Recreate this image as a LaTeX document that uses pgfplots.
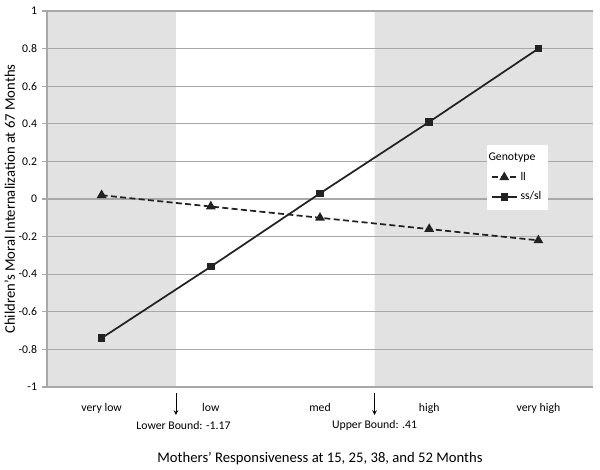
\documentclass[border=0pt]{standalone}
\usepackage{fontspec}
\setmainfont{Carlito}
\usepackage{pgfplots}
\pgfplotsset{compat=1.18}

\definecolor{shade}{HTML}{E2E2E2}
\definecolor{gridc}{HTML}{A8A8A8}
\definecolor{linec}{HTML}{222222}

\begin{document}
\begin{tikzpicture}
\begin{axis}[
    set layers,
    scale only axis,
    width=409.5pt, height=282pt,
    xmin=-0.5, xmax=4.5,
    ymin=-1, ymax=1,
    clip=false,
    xtick={0,1,2,3,4},
    xticklabels={very low,low,med,high,very high},
    ytick={-1,-0.8,-0.6,-0.4,-0.2,0,0.2,0.4,0.6,0.8,1},
    yticklabel style={/pgf/number format/fixed, /pgf/number format/assume math mode=true},
    ymajorgrids,
    major grid style={gridc, line width=0.8pt},
    axis x line*=bottom,
    axis y line*=left,
    axis line style={gridc, line width=0.8pt, -},
    ytick style={gridc, line width=0.8pt},
    xtick style={draw=none},
    tick align=outside,
    major tick length=4pt,
    tick label style={font=\fontsize{8.8}{10}\selectfont},
    xticklabel style={yshift=-5pt},
    xlabel={Mothers' Responsiveness at 15, 25, 38, and 52 Months},
    ylabel={Children's Moral Internalization at 67 Months},
    label style={font=\fontsize{11}{13}\selectfont},
    xlabel style={at={(rel axis cs:0.5,0)}, anchor=center, yshift=-54pt},
    ylabel style={at={(rel axis cs:-0.068,0.5)}, anchor=center},
    legend style={at={(rel axis cs:0.805,0.6436)}, anchor=north west,
        fill=white, draw=none, font=\fontsize{8.8}{10}\selectfont,
        inner xsep=3pt, inner ysep=4pt, row sep=3pt},
    legend cell align=left,
    legend image code/.code={
        \draw[mark repeat=2, mark phase=2, #1]
        plot coordinates {(0pt,0pt) (9.5pt,0pt) (19pt,0pt)};},
]
% shaded regions
\addplot[on layer=axis background, fill=shade, draw=none, forget plot]
    coordinates {(-0.5,-1) (0.681,-1) (0.681,1) (-0.5,1)} \closedcycle;
\addplot[on layer=axis background, fill=shade, draw=none, forget plot]
    coordinates {(2.5,-1) (4.5,-1) (4.5,1) (2.5,1)} \closedcycle;

\addlegendimage{empty legend}
\addlegendentry{\hspace{-24pt}Genotype}

% ll
\addplot[linec, line width=1.3pt, dash pattern=on 4.5pt off 2.5pt,
    mark=triangle*, mark size=3pt, mark options={solid}]
    coordinates {(0,0.02) (1,-0.04) (2,-0.10) (3,-0.16) (4,-0.22)};
\addlegendentry{ll}

% ss/sl
\addplot[linec, line width=1.3pt, mark=square*, mark size=2.2pt]
    coordinates {(0,-0.74) (1,-0.36) (2,0.03) (3,0.41) (4,0.80)};
\addlegendentry{ss/sl}

% bounds
\draw[->, >=stealth, line width=0.6pt] (axis cs:0.681,-1.032) -- (axis cs:0.681,-1.149);
\draw[->, >=stealth, line width=0.6pt] (axis cs:2.5,-1.032) -- (axis cs:2.5,-1.149);
\node[font=\fontsize{8.8}{10}\selectfont] at (axis cs:0.75,-1.205) {Lower Bound: -1.17};
\node[font=\fontsize{8.8}{10}\selectfont] at (axis cs:2.5,-1.205) {Upper Bound: .41};
\end{axis}
\path (-35.25pt,-62.25pt) rectangle (414.75pt,290.25pt);
\end{tikzpicture}
\end{document}
